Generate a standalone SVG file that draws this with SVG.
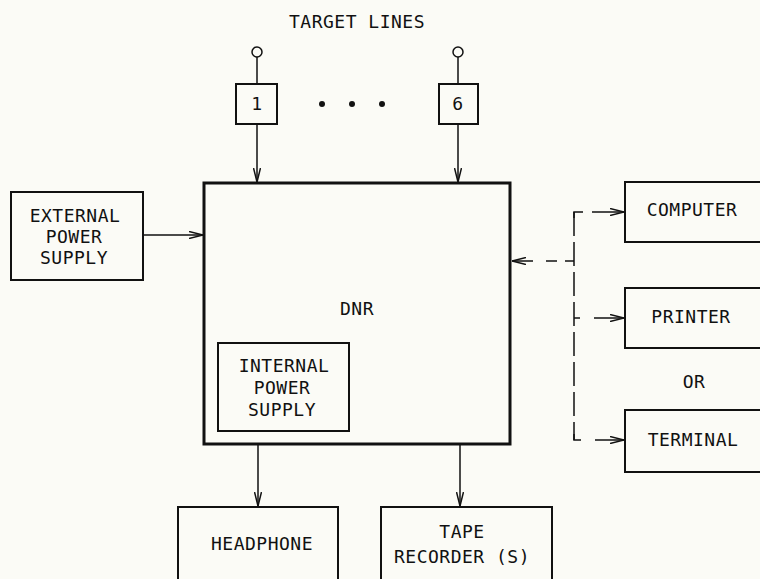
<svg xmlns="http://www.w3.org/2000/svg" width="760" height="579" viewBox="0 0 760 579">
<defs>
<marker id="ah" viewBox="0 0 14 8" refX="14" refY="4" markerWidth="14" markerHeight="8" markerUnits="userSpaceOnUse" orient="auto">
<path d="M0,0.5 L14,4 L0,7.5" fill="none" stroke="#111" stroke-width="1.5"/>
</marker>
</defs>
<style>
.bg{fill:#fbfbf6}
.box{fill:none;stroke:#111;stroke-width:2}
.main{fill:none;stroke:#111;stroke-width:3}
.ln{fill:none;stroke:#111;stroke-width:1.5}
.vdash{fill:none;stroke:#111;stroke-width:1.5;stroke-dasharray:24 6}
text{font-family:"DejaVu Sans Mono","Liberation Mono",monospace;font-size:18px;fill:#111;text-anchor:middle;letter-spacing:0.5px}
</style>
<rect class="bg" x="0" y="0" width="760" height="579"/>
<g id="title"><text x="357" y="28">TARGET LINES</text></g>
<g id="line1">
<circle cx="257" cy="52" r="5" fill="none" stroke="#111" stroke-width="1.5"/>
<line class="ln" x1="257" y1="57" x2="257" y2="84"/>
<rect class="box" x="236" y="84" width="41" height="40"/>
<text x="257" y="110">1</text>
</g>
<g id="dots">
<circle cx="322" cy="104" r="3" fill="#111"/>
<circle cx="352" cy="104" r="3" fill="#111"/>
<circle cx="382" cy="104" r="3" fill="#111"/>
</g>
<g id="line6">
<circle cx="458" cy="52" r="5" fill="none" stroke="#111" stroke-width="1.5"/>
<line class="ln" x1="458" y1="57" x2="458" y2="84"/>
<rect class="box" x="439" y="84" width="39" height="40"/>
<text x="458" y="110">6</text>
</g>
<g id="dnr">
<rect class="main" x="204" y="183" width="306" height="261"/>
<text x="357" y="315">DNR</text>
</g>
<g id="internal">
<rect class="box" x="218" y="343" width="131" height="88"/>
<text x="284" y="372">INTERNAL</text>
<text x="282" y="394">POWER</text>
<text x="282" y="416">SUPPLY</text>
</g>
<g id="external">
<rect class="box" x="11" y="192" width="132" height="88"/>
<text x="75" y="222">EXTERNAL</text>
<text x="74" y="243">POWER</text>
<text x="74" y="264">SUPPLY</text>
</g>
<g id="computer">
<rect class="box" x="625" y="182" width="145" height="60"/>
<text x="692" y="216">COMPUTER</text>
</g>
<g id="printer">
<rect class="box" x="625" y="288" width="145" height="60"/>
<text x="691" y="323">PRINTER</text>
</g>
<g id="or"><text x="694" y="388">OR</text></g>
<g id="terminal">
<rect class="box" x="625" y="410" width="145" height="62"/>
<text x="693" y="446">TERMINAL</text>
</g>
<g id="headphone">
<rect class="box" x="178" y="507" width="160" height="80"/>
<text x="262" y="550">HEADPHONE</text>
</g>
<g id="tape">
<rect class="box" x="381" y="507" width="171" height="80"/>
<text x="462" y="538">TAPE</text>
<text x="462" y="563">RECORDER (S)</text>
</g>
<g id="connectors">
<line class="ln" x1="257" y1="124" x2="257" y2="182" marker-end="url(#ah)"/>
<line class="ln" x1="458" y1="124" x2="458" y2="182" marker-end="url(#ah)"/>
<line class="ln" x1="143" y1="235" x2="203" y2="235" marker-end="url(#ah)"/>
<line class="ln" x1="258" y1="445" x2="258" y2="506" marker-end="url(#ah)"/>
<line class="ln" x1="460" y1="445" x2="460" y2="506" marker-end="url(#ah)"/>
<path class="vdash" d="M574,212 V440"/>
<path class="ln" d="M583,212 H574 V218"/>
<path class="ln" d="M574,434 V440 H581"/>
<line class="ln" x1="574" y1="318" x2="580" y2="318"/>
<line class="ln" x1="592" y1="212" x2="624" y2="212" marker-end="url(#ah)"/>
<line class="ln" x1="594" y1="318" x2="624" y2="318" marker-end="url(#ah)"/>
<line class="ln" x1="595" y1="440" x2="624" y2="440" marker-end="url(#ah)"/>
<line class="ln" x1="574" y1="261" x2="565" y2="261"/>
<line class="ln" x1="557" y1="261" x2="546" y2="261"/>
<line class="ln" x1="533" y1="261" x2="512" y2="261" marker-end="url(#ah)"/>
</g>
</svg>
